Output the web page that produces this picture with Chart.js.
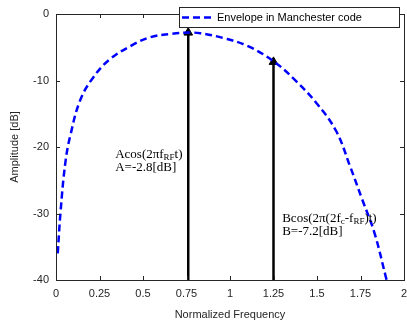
<!DOCTYPE html>
<html>
<head>
<meta charset="utf-8">
<script src="https://cdn.jsdelivr.net/npm/chart.js@4.4.1/dist/chart.umd.min.js"></script>
<style>
  html, body { margin: 0; padding: 0; background: #fff; }
  #wrap { width: 407px; height: 326px; }
</style>
</head>
<body>
<div id="wrap"><canvas id="c" width="407" height="326"></canvas></div>
<script>
// ---------- Data ----------
const envFreq = [0.01, 0.026, 0.054, 0.083, 0.14, 0.215, 0.31, 0.43, 0.54, 0.66, 0.77, 0.83, 0.96, 1.10, 1.25, 1.38, 1.50, 1.61, 1.69, 1.76, 1.83, 1.90];
const envDb   = [-36, -29.8, -22.3, -18.2, -12.9, -9.5, -6.8, -4.8, -3.5, -3.0, -2.8, -2.9, -3.6, -4.8, -7.1, -10.1, -13.5, -17.6, -22.9, -27.9, -32.9, -40];
const arrowFreq = [0.76, 1.25];
const arrowDb   = [-2.8, -7.2];
const xTicks = [0, 0.25, 0.5, 0.75, 1, 1.25, 1.5, 1.75, 2];
const yTicks = [0, -10, -20, -30, -40];
const legendLabel = 'Envelope in Manchester code';
// annotation anchors in data units
const notes = [
  { x: 0.34, y: -21.2, lines: [[['Acos(2\u03C0f', 0], ['RF', 1], ['t)', 0]], [['A=-2.8[dB]', 0]]] },
  { x: 1.30, y: -30.7, lines: [[['Bcos(2\u03C0(2f', 0], ['c', 1], ['-f', 0], ['RF', 1], [')t)', 0]], [['B=-7.2[dB]', 0]]] }
];

const AXIS = '#262626';
const SANS = '"Liberation Sans", Arial, sans-serif';
const SERIF = '"Liberation Serif", "Times New Roman", serif';

// ---------- Datasets ----------
const datasets = [{
  label: legendLabel,
  data: envFreq.map((f, i) => ({ x: f, y: envDb[i] })),
  borderColor: '#0000ff',
  borderWidth: 2.5,
  borderDash: [7, 4],
  pointRadius: 0,
  tension: 0.4,
  fill: false
}];
arrowFreq.forEach((f, i) => {
  datasets.push({
    label: 'arrow' + i,
    data: [{ x: f, y: -40 }, { x: f, y: arrowDb[i] }],
    borderColor: '#000',
    backgroundColor: '#000',
    borderWidth: 2.5,
    pointStyle: 'triangle',
    pointRadius: [0, 5],
    pointBorderWidth: 1,
    clip: false
  });
});

// ---------- Plugins ----------
const boxAndTicks = {
  id: 'boxAndTicks',
  afterDatasetsDraw(chart) {
    const { ctx, chartArea: a, scales } = chart;
    ctx.save();
    ctx.strokeStyle = AXIS;
    ctx.lineWidth = 1;
    ctx.strokeRect(Math.round(a.left) + 0.5, Math.round(a.top) + 0.5, Math.round(a.right - a.left), Math.round(a.bottom - a.top));
    ctx.beginPath();
    xTicks.forEach(v => {
      const px = Math.round(scales.x.getPixelForValue(v)) + 0.5;
      ctx.moveTo(px, a.bottom); ctx.lineTo(px, a.bottom - 4);
      ctx.moveTo(px, a.top); ctx.lineTo(px, a.top + 4);
    });
    yTicks.forEach(v => {
      const py = Math.round(scales.y.getPixelForValue(v)) + 0.5;
      ctx.moveTo(a.left, py); ctx.lineTo(a.left + 4, py);
      ctx.moveTo(a.right, py); ctx.lineTo(a.right - 4, py);
    });
    ctx.stroke();

    // annotations
    ctx.fillStyle = '#000';
    ctx.textBaseline = 'middle';
    notes.forEach(n => {
      const x0 = scales.x.getPixelForValue(n.x);
      let y = scales.y.getPixelForValue(n.y);
      n.lines.forEach(line => {
        let x = x0;
        line.forEach(([txt, sub]) => {
          ctx.font = sub ? '9px ' + SERIF : '13px ' + SERIF;
          ctx.fillText(txt, x, sub ? y + 3 : y);
          x += ctx.measureText(txt).width;
        });
        y += 13;
      });
    });

    // legend box
    const lx = 179, ly = 7, lw = 220, lh = 20;
    ctx.fillStyle = '#fff';
    ctx.fillRect(lx, ly, lw, lh);
    ctx.strokeStyle = '#262626';
    ctx.strokeRect(lx + 0.5, ly + 0.5, lw, lh);
    ctx.strokeStyle = '#0000ff';
    ctx.lineWidth = 2.5;
    ctx.setLineDash([7, 4]);
    ctx.beginPath();
    ctx.moveTo(lx + 3, ly + lh / 2 + 0.5);
    ctx.lineTo(lx + 36, ly + lh / 2 + 0.5);
    ctx.stroke();
    ctx.setLineDash([]);
    ctx.fillStyle = '#000';
    ctx.font = '11px ' + SANS;
    ctx.textBaseline = 'middle';
    ctx.fillText(legendLabel, lx + 38, ly + lh / 2 + 1);
    ctx.restore();
  }
};

// ---------- Chart ----------
new Chart(document.getElementById('c'), {
  type: 'line',
  data: { datasets },
  options: {
    responsive: false,
    animation: false,
    layout: { autoPadding: false, padding: { top: 14, right: 3, left: 0, bottom: 0 } },
    plugins: { legend: { display: false }, tooltip: { enabled: false } },
    scales: {
      x: {
        type: 'linear', min: 0, max: 2,
        afterBuildTicks: s => { s.ticks = xTicks.map(v => ({ value: v })); },
        afterFit: s => { s.height = 46; s.paddingLeft = 0; s.paddingRight = 0; },
        grid: { display: false, drawTicks: false },
        border: { display: false },
        ticks: { color: AXIS, font: { family: SANS, size: 11 }, padding: 7, maxRotation: 0, autoSkip: false, callback: v => String(v) },
        title: { display: true, text: 'Normalized Frequency', color: AXIS, font: { family: SANS, size: 11 }, padding: { top: 4, bottom: 4 } }
      },
      y: {
        type: 'linear', min: -40, max: 0,
        afterBuildTicks: s => { s.ticks = yTicks.map(v => ({ value: v })); },
        afterFit: s => { s.width = 56; s.paddingTop = 0; s.paddingBottom = 0; },
        grid: { display: false, drawTicks: false },
        border: { display: false },
        ticks: { color: AXIS, font: { family: SANS, size: 11 }, padding: 7, autoSkip: false, callback: v => String(v) },
        title: { display: true, text: 'Amplitude [dB]', color: AXIS, font: { family: SANS, size: 11 }, padding: { top: 8, bottom: 8 } }
      }
    }
  },
  plugins: [boxAndTicks]
});
</script>
</body>
</html>
